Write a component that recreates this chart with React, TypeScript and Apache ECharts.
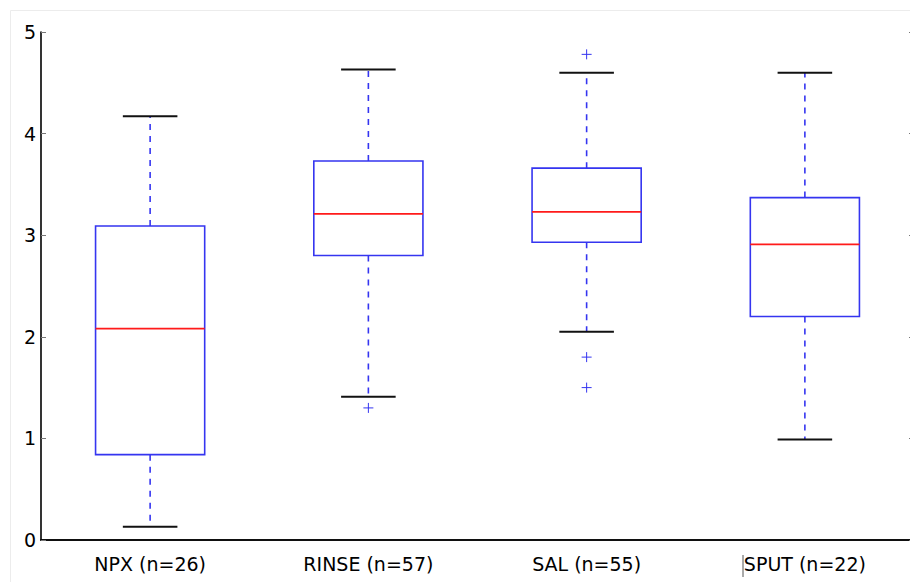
import React, { useEffect, useRef } from "react";
import * as echarts from "echarts";

const categories = ["NPX (n=26)", "RINSE (n=57)", "SAL (n=55)", "SPUT (n=22)"];
const whiskerLow = [0.13, 1.41, 2.05, 0.99];
const q1 = [0.84, 2.8, 2.93, 2.2];
const median = [2.08, 3.21, 3.23, 2.91];
const q3 = [3.09, 3.73, 3.66, 3.37];
const whiskerHigh = [4.17, 4.63, 4.6, 4.6];
const outliers: [number, number][] = [
  [1, 1.3],
  [2, 4.78],
  [2, 1.8],
  [2, 1.5],
];
const yTicks = [0, 1, 2, 3, 4, 5];

const BLUE = "#3535f0";
const RED = "#ff1a1a";
const FONT = "DejaVu Sans";

export default function App() {
  const ref = useRef<HTMLDivElement>(null);
  useEffect(() => {
    if (!ref.current) return;
    const chart = echarts.init(ref.current, undefined, { renderer: "svg" });
    const boxData = categories.map((_, i) => [i, whiskerLow[i], q1[i], median[i], q3[i], whiskerHigh[i]]);
    const yMin = yTicks[0];
    const yMax = yTicks[yTicks.length - 1];
    chart.setOption({
      animation: false,
      backgroundColor: "#ffffff",
      grid: { left: 41, top: 32, width: 873, height: 508, containLabel: false, outerBoundsMode: "none" },
      xAxis: [
        {
          type: "category",
          data: categories,
          boundaryGap: true,
          axisLine: { lineStyle: { color: "#000", width: 1.6 } },
          axisTick: { inside: true, length: 5, alignWithLabel: true, lineStyle: { color: "#777" } },
          axisLabel: { color: "#000", fontSize: 19, fontFamily: FONT, margin: 14 },
          splitLine: { show: false },
        },
        {
          type: "category",
          data: categories,
          position: "top",
          boundaryGap: true,
          axisLine: { lineStyle: { color: "#000", width: 1.6 } },
          axisTick: { inside: true, length: 5, alignWithLabel: true, lineStyle: { color: "#777" } },
          axisLabel: { show: false },
          splitLine: { show: false },
        },
      ],
      yAxis: [
        {
          type: "value",
          min: yMin,
          max: yMax,
          interval: 1,
          axisLine: { show: true, lineStyle: { color: "#000", width: 1.6 } },
          axisTick: { show: true, inside: true, length: 5, lineStyle: { color: "#777" } },
          axisLabel: { color: "#000", fontSize: 19, fontFamily: FONT, margin: 5 },
          splitLine: { show: false },
        },
        {
          type: "value",
          position: "right",
          min: yMin,
          max: yMax,
          interval: 1,
          axisLine: { show: true, lineStyle: { color: "#000", width: 1.6 } },
          axisTick: { show: true, inside: true, length: 5, lineStyle: { color: "#777" } },
          axisLabel: { show: false },
          splitLine: { show: false },
        },
      ],
      graphic: [
        {
          type: "rect",
          shape: { x: 10.5, y: 10.5, width: 1000, height: 1000 },
          style: { fill: "none", stroke: "#ececec", lineWidth: 1 },
          z: -10,
        },
        {
          type: "line",
          shape: { x1: 743, y1: 555, x2: 743, y2: 577 },
          style: { stroke: "#555", lineWidth: 1 },
        },
      ],
      series: [
        {
          type: "custom",
          xAxisIndex: 0,
          yAxisIndex: 0,
          data: boxData,
          encode: { x: 0, y: [1, 2, 3, 4, 5] },
          renderItem: (params: any, api: any) => {
            const xi = api.value(0);
            const band = api.size([1, 0])[0];
            const half = band * 0.25;
            const capHalf = band * 0.125;
            const pLow = api.coord([xi, api.value(1)]);
            const pQ1 = api.coord([xi, api.value(2)]);
            const pMed = api.coord([xi, api.value(3)]);
            const pQ3 = api.coord([xi, api.value(4)]);
            const pHigh = api.coord([xi, api.value(5)]);
            const cx = pQ1[0];
            return {
              type: "group",
              children: [
                {
                  type: "line",
                  shape: { x1: cx, y1: pQ3[1], x2: cx, y2: pHigh[1] },
                  style: { stroke: BLUE, lineWidth: 1.6, lineDash: [6, 6] },
                },
                {
                  type: "line",
                  shape: { x1: cx, y1: pQ1[1], x2: cx, y2: pLow[1] },
                  style: { stroke: BLUE, lineWidth: 1.6, lineDash: [6, 6] },
                },
                {
                  type: "line",
                  shape: { x1: cx - capHalf, y1: pHigh[1], x2: cx + capHalf, y2: pHigh[1] },
                  style: { stroke: "#111", lineWidth: 2 },
                },
                {
                  type: "line",
                  shape: { x1: cx - capHalf, y1: pLow[1], x2: cx + capHalf, y2: pLow[1] },
                  style: { stroke: "#111", lineWidth: 2 },
                },
                {
                  type: "rect",
                  shape: { x: cx - half, y: pQ3[1], width: half * 2, height: pQ1[1] - pQ3[1] },
                  style: { fill: "#fff", stroke: BLUE, lineWidth: 1.6 },
                },
                {
                  type: "line",
                  shape: { x1: cx - half, y1: pMed[1], x2: cx + half, y2: pMed[1] },
                  style: { stroke: RED, lineWidth: 1.6 },
                },
              ],
            };
          },
          z: 2,
        },
        {
          type: "custom",
          xAxisIndex: 0,
          yAxisIndex: 0,
          data: outliers,
          encode: { x: 0, y: 1 },
          renderItem: (params: any, api: any) => {
            const p = api.coord([api.value(0), api.value(1)]);
            const s = 5;
            return {
              type: "group",
              children: [
                { type: "line", shape: { x1: p[0] - s, y1: p[1], x2: p[0] + s, y2: p[1] }, style: { stroke: BLUE, lineWidth: 1 } },
                { type: "line", shape: { x1: p[0], y1: p[1] - s, x2: p[0], y2: p[1] + s }, style: { stroke: BLUE, lineWidth: 1 } },
              ],
            };
          },
          z: 3,
        },
      ],
    });
    return () => chart.dispose();
  }, []);
  return (
    <div
      ref={ref}
      style={{ position: "fixed", left: 0, top: 0, width: 910, height: 582, background: "#fff" }}
    />
  );
}
